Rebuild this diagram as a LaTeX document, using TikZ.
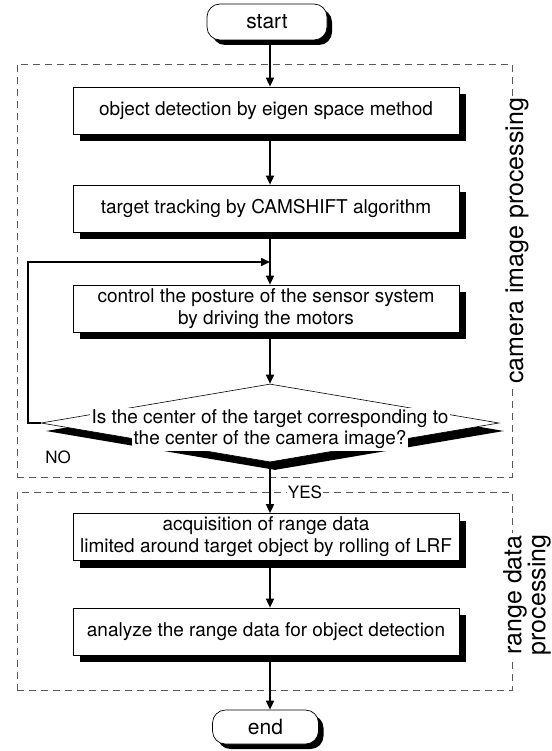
\documentclass[tikz,border=0pt]{standalone}
\usepackage{fontspec}
\setmainfont{TeX Gyre Heros}
\usetikzlibrary{arrows.meta,shapes.geometric,shadows}
\begin{document}
\begin{tikzpicture}[x=1pt,y=-1pt,
  txt/.style={font=\fontsize{19}{22}\selectfont},
  procbox/.style={txt, draw=black, line width=0.7pt, fill=white, minimum width=386pt, minimum height=47pt, align=center, inner sep=0pt,
    drop shadow={shadow xshift=7pt, shadow yshift=-7pt, fill=black, opacity=1}},
  termbox/.style={font=\fontsize{21}{24}\selectfont, draw=black, line width=0.7pt, fill=white, rounded corners=13pt, inner sep=0pt,
    drop shadow={shadow xshift=5pt, shadow yshift=-5pt, fill=black, opacity=1}},
  region/.style={draw=black!65, line width=0.8pt, dash pattern=on 7pt off 5pt, inner sep=0pt},
  sidelabel/.style={font=\fontsize{25}{22}\selectfont, fill=white, rotate=90, inner sep=2pt, align=center},
  conn/.style={line width=1.6pt, -{Triangle[length=9pt,width=8pt]}},
  tag/.style={font=\fontsize{17}{20}\selectfont, fill=white, inner sep=1pt}
]
\useasboundingbox (0,0) rectangle (551,751);
% regions
\node[region, minimum width=495pt, minimum height=413pt] (camreg) at (264.5,270.5) {};
\node[region, minimum width=495pt, minimum height=198pt] (rngreg) at (264.5,591) {};
\node[sidelabel] (camlab) at (517,241) {camera image processing};
\node[sidelabel] (rnglab) at (527,595) {range data\\processing};
% spine
\coordinate (sp) at (270,0);
\coordinate (loopx) at (28,0);
\coordinate (loopin) at (270,262);
% nodes
\node[termbox, minimum width=120pt, minimum height=36pt] (start) at (267,22) {start};
\node[procbox] (b1) at (266,110.5) {object detection by eigen space method};
\node[procbox] (b2) at (266,208.5) {target tracking by CAMSHIFT algorithm};
\node[procbox] (b3) at (266,308.5) {control the posture of the sensor system\\by driving the motors};
\node[diamond, draw=black, line width=0.6pt, fill=white, minimum width=458pt, minimum height=78pt, inner sep=0pt,
  drop shadow={shadow xshift=5pt, shadow yshift=-8pt, fill=black, opacity=1}] (dec) at (270,423) {};
\node[txt, fill=white, inner sep=2pt] (q1) at (270,419) {Is the center of the target corresponding to};
\node[txt, fill=white, inner sep=2pt] (q2) at (270,440) {the center of the camera image?};
\node[procbox] (r1) at (266,537) {acquisition of range data\\limited around target object by rolling of LRF};
\node[procbox] (r2) at (266,631.5) {analyze the range data for object detection};
\node[termbox, minimum width=106pt, minimum height=34pt] (end) at (265.5,727) {end};
% connectors
\draw[conn] (start.south -| sp) -- (b1.north -| sp);
\draw[conn] (b1.south -| sp) -- (b2.north -| sp);
\draw[conn] (b2.south -| sp) -- (b3.north -| sp);
\draw[conn] (b3.south -| sp) -- (dec.north);
\draw[conn] (dec.west) -- (dec.west -| loopx) |- (loopin);
\draw[conn] (dec.south) -- (r1.north -| sp);
\draw[conn] (r1.south -| sp) -- (r2.north -| sp);
\draw[conn] (r2.south -| sp) -- (end.north -| sp);
\node[tag] (no) at (58,457) {NO};
\node[tag] (yes) at (305,492) {YES};
\end{tikzpicture}
\end{document}
